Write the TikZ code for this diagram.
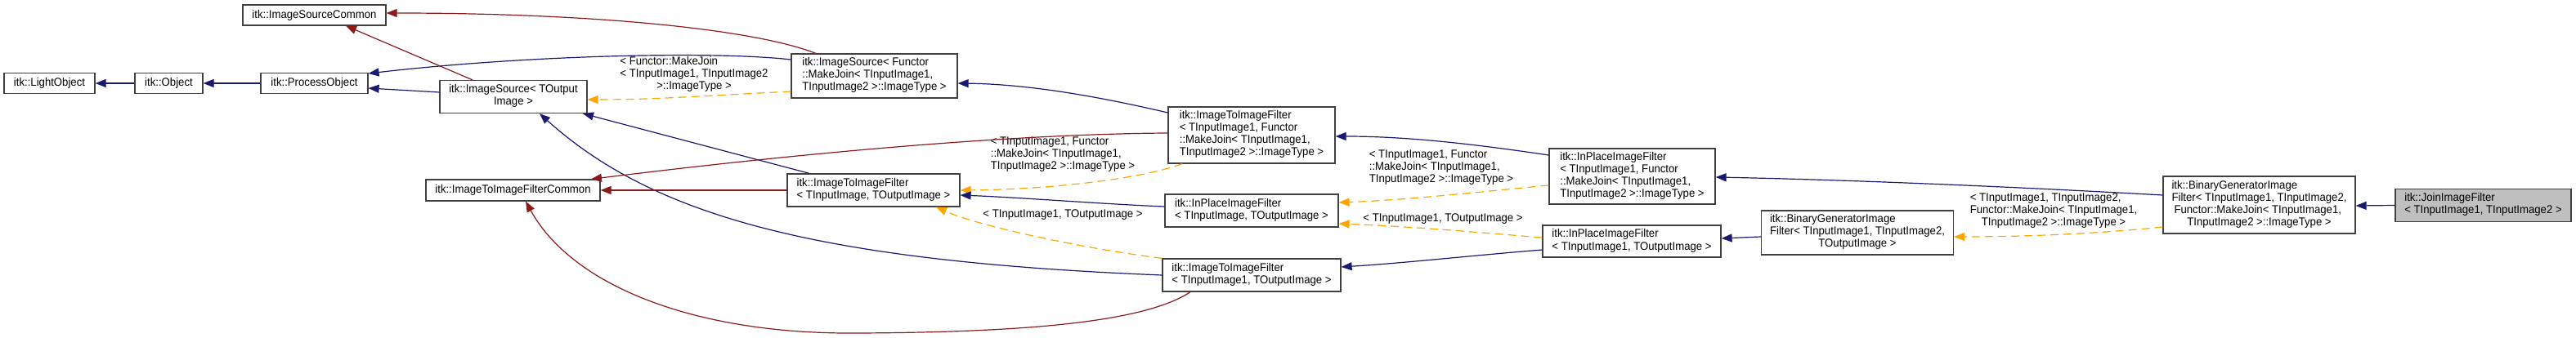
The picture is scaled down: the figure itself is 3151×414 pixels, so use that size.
\documentclass[tikz,border=0pt]{standalone}
\usepackage{fontspec}
\setmainfont{Liberation Sans}[FakeStretch=0.94]
\usetikzlibrary{arrows.meta}
\definecolor{edgeblue}{HTML}{191970}
\definecolor{edgered}{HTML}{8B1A1A}
\definecolor{edgeorange}{HTML}{FFA500}
\definecolor{boxline}{HTML}{404040}
\definecolor{joingray}{HTML}{BFBFBF}
\newcommand{\tb}[1]{\begin{tabular}{@{}l@{}}#1\end{tabular}}
\newcommand{\lc}[1]{\multicolumn{1}{@{}c@{}}{#1}}
\begin{document}
\begin{tikzpicture}[x=1pt,y=-1pt,
  every node/.style={font=\fontsize{14}{15}\selectfont},
  cls/.style={draw=boxline, line width=1.2pt, rectangle, inner sep=0pt, fill=white},
  cur/.style={cls, fill=joingray},
  lbl/.style={inner sep=0pt},
  inh/.style={draw=edgeblue, line width=1.2pt, -{Triangle[length=13pt,width=10pt]}},
  relred/.style={draw=edgered, line width=1.2pt, -{Triangle[length=13pt,width=10pt]}},
  tmpl/.style={draw=edgeorange, line width=1.2pt, dash pattern=on 10pt off 6pt, -{Triangle[length=13pt,width=10pt]}}]
\useasboundingbox (0,0) rectangle (3151,414);

% nodes
\node[cls, minimum width=111pt, minimum height=25pt] (l) at (60.5,102) {itk::LightObject};
\node[cls, minimum width=83pt, minimum height=25pt] (o) at (206.5,102) {itk::Object};
\node[cls, minimum width=131pt, minimum height=25pt] (po) at (384.5,102) {itk::ProcessObject};
\node[cls, minimum width=175pt, minimum height=25pt] (isc) at (384.5,18.5) {itk::ImageSourceCommon};
\node[cls, minimum width=180pt, minimum height=40pt] (is) at (628,118.5) {\tb{itk::ImageSource< TOutput\\\lc{Image >}}};
\node[cls, minimum width=203pt, minimum height=54pt] (isf) at (1069.5,93) {\tb{itk::ImageSource< Functor\\::MakeJoin< TInputImage1,\\\lc{TInputImage2 >::ImageType >}}};
\node[cls, minimum width=213pt, minimum height=26pt] (itifc) at (627.5,233) {itk::ImageToImageFilterCommon};
\node[cls, minimum width=211pt, minimum height=40pt] (itif) at (1068.5,233) {\tb{itk::ImageToImageFilter\\\lc{< TInputImage, TOutputImage >}}};
\node[cls, minimum width=204pt, minimum height=69pt] (itiff) at (1531,165.5) {\tb{itk::ImageToImageFilter\\< TInputImage1, Functor\\::MakeJoin< TInputImage1,\\\lc{TInputImage2 >::ImageType >}}};
\node[cls, minimum width=212pt, minimum height=40pt] (ipif) at (1531,258) {\tb{itk::InPlaceImageFilter\\\lc{< TInputImage, TOutputImage >}}};
\node[cls, minimum width=218pt, minimum height=40pt] (itif1) at (1531,337) {\tb{itk::ImageToImageFilter\\\lc{< TInputImage1, TOutputImage >}}};
\node[cls, minimum width=203pt, minimum height=68pt] (ipiff) at (1996.5,216) {\tb{itk::InPlaceImageFilter\\< TInputImage1, Functor\\::MakeJoin< TInputImage1,\\\lc{TInputImage2 >::ImageType >}}};
\node[cls, minimum width=218pt, minimum height=39pt] (ipif1) at (1996,295.5) {\tb{itk::InPlaceImageFilter\\\lc{< TInputImage1, TOutputImage >}}};
\node[cls, minimum width=235pt, minimum height=54pt] (bgif) at (2272,285) {\tb{itk::BinaryGeneratorImage\\Filter< TInputImage1, TInputImage2,\\\lc{TOutputImage >}}};
\node[cls, minimum width=235pt, minimum height=70pt] (bgiff) at (2763.5,251) {\tb{itk::BinaryGeneratorImage\\Filter< TInputImage1, TInputImage2,\\\hspace{3pt}Functor::MakeJoin< TInputImage1,\\\lc{TInputImage2 >::ImageType >}}};
\node[cur, minimum width=215pt, minimum height=40pt] (j) at (3037.5,251.5) {\tb{itk::JoinImageFilter\\\lc{< TInputImage1, TInputImage2 >}}};

% edge labels
\node[lbl] (lab1) at (849,92) {\tb{< Functor::MakeJoin\\< TInputImage1, TInputImage2\\\lc{>::ImageType >}}};
\node[lbl] (lab2) at (1300,190) {\tb{< TInputImage1, Functor\\::MakeJoin< TInputImage1,\\\lc{TInputImage2 >::ImageType >}}};
\node[lbl] (lab3) at (1300,263) {< TInputImage1, TOutputImage >};
\node[lbl] (lab4) at (1763,206) {\tb{< TInputImage1, Functor\\::MakeJoin< TInputImage1,\\\lc{TInputImage2 >::ImageType >}}};
\node[lbl] (lab5) at (1765,268) {< TInputImage1, TOutputImage >};
\node[lbl] (lab6) at (2512,259) {\tb{< TInputImage1, TInputImage2,\\Functor::MakeJoin< TInputImage1,\\\lc{TInputImage2 >::ImageType >}}};

% edges
\draw[inh] (o.west) -- (l.east);
\draw[inh] (po.west) -- (o.east);
\draw[inh] (is.west |- 0,113) -- (po.east |- 0,108);
\draw[inh] (isf.west |- 0,73) .. controls (870,62) and (640,68) .. (po.east |- 0,90);
\draw[relred] (578,0 |- is.north) -- (423,0 |- isc.south);
\draw[relred] (998,0 |- isf.north) .. controls (920,35) and (720,16) .. (isc.east |- 0,16);
\draw[tmpl] (isf.west |- 0,112) .. controls (850,118) and (800,122) .. (is.east |- 0,122);
\draw[inh] (990,0 |- itif.north) -- (713,0 |- is.south);
\draw[inh] (itif1.west) .. controls (1000,320) and (800,265) .. (660,0 |- is.south);
\draw[relred] (itif.west) -- (itifc.east);
\draw[relred] (itiff.west |- 0,163) .. controls (1250,164) and (1000,185) .. (723,0 |- itifc.north);
\draw[relred] (1456,0 |- itif1.south) .. controls (1400,395) and (1250,407) .. (1050,408) .. controls (850,410) and (700,350) .. (643,0 |- itifc.south);
\draw[inh] (itiff.west |- 0,138) .. controls (1330,115) and (1250,103) .. (isf.east |- 0,102);
\draw[tmpl] (1446,0 |- itiff.south) .. controls (1400,218) and (1290,232) .. (itif.east |- 0,233);
\draw[inh] (ipif.west |- 0,253) .. controls (1350,250) and (1250,242) .. (itif.east |- 0,239);
\draw[tmpl] (itif1.north west) .. controls (1330,305) and (1200,278) .. (1145,0 |- itif.south);
\draw[inh] (ipiff.west |- 0,190) .. controls (1800,176) and (1720,167) .. (itiff.east |- 0,167);
\draw[tmpl] (ipiff.west |- 0,227) .. controls (1800,236) and (1720,245) .. (ipif.east |- 0,248);
\draw[tmpl] (ipif1.west |- 0,291) .. controls (1800,284) and (1720,277) .. (ipif.east |- 0,274);
\draw[inh] (ipif1.west |- 0,306) .. controls (1800,313) and (1720,322) .. (itif1.east |- 0,327);
\draw[inh] (bgif.west |- 0,290) -- (ipif1.east |- 0,292);
\draw[inh] (bgiff.west |- 0,239) .. controls (2450,228) and (2250,220) .. (ipiff.east |- 0,217);
\draw[tmpl] (bgiff.west |- 0,278) .. controls (2570,286) and (2480,290) .. (bgif.east |- 0,290);
\draw[inh] (j.west) -- (bgiff.east |- 0,252);
\end{tikzpicture}
\end{document}
